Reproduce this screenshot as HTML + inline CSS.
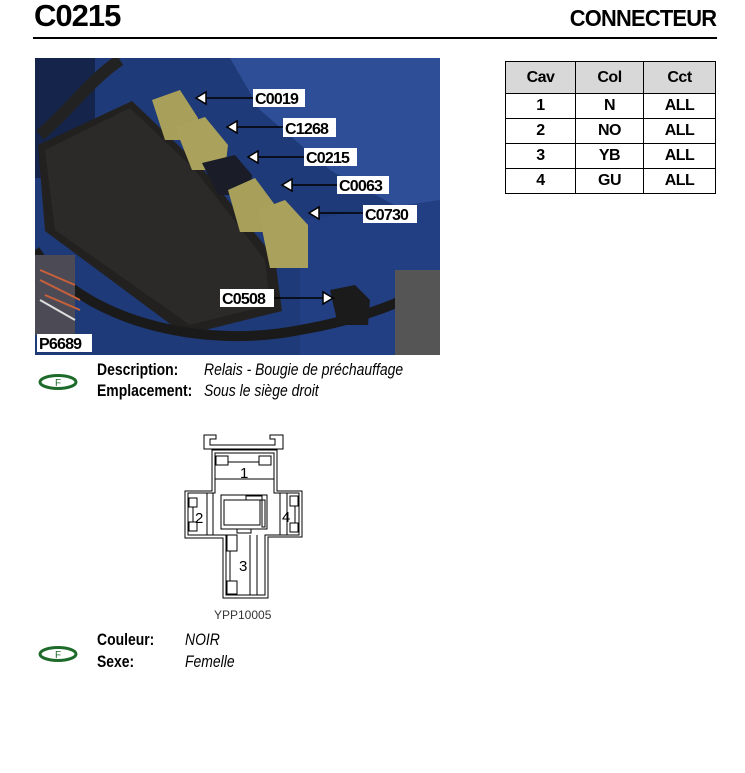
<!DOCTYPE html>
<html><head><meta charset="utf-8">
<style>
*{margin:0;padding:0;box-sizing:border-box}
body{width:745px;height:773px;background:#fff;position:relative;font-family:"Liberation Sans",Arial,sans-serif;overflow:hidden}
.a{position:absolute;white-space:nowrap}
.c{transform-origin:0 0;transform:scaleX(0.82)}
table{position:absolute;left:505px;top:61px;border-collapse:collapse}
td{border:1px solid #000;text-align:center;font-weight:bold;font-size:16px;height:25px;letter-spacing:-0.5px}
tr.h td{background:#d8d8d8;height:32px;font-weight:bold}
</style></head><body>
<div class="a" style="left:34px;top:-2px;font-size:31px;font-weight:bold;letter-spacing:-1px">C0215</div>
<div class="a" style="right:29px;top:5px;font-size:23px;letter-spacing:-0.8px;font-weight:bold;transform:scaleX(0.95);transform-origin:100% 0">CONNECTEUR</div>
<div class="a" style="left:33px;top:37px;width:684px;height:2px;background:#000"></div>

<table>
<tr class="h"><td style="width:70px">Cav</td><td style="width:68px">Col</td><td style="width:72px">Cct</td></tr>
<tr><td>1</td><td>N</td><td>ALL</td></tr>
<tr><td>2</td><td>NO</td><td>ALL</td></tr>
<tr><td>3</td><td>YB</td><td>ALL</td></tr>
<tr><td>4</td><td>GU</td><td>ALL</td></tr>
</table>

<svg class="a" style="left:35px;top:58px" width="405" height="297" viewBox="35 58 405 297">
<rect x="35" y="58" width="405" height="297" fill="#1f3a78"/>
<polygon points="230,58 440,58 440,230 330,170 260,110" fill="#2e4f98"/>
<polygon points="300,220 440,200 440,355 300,355" fill="#223f84"/>
<rect x="35" y="58" width="60" height="120" fill="#14244a"/>
<path d="M40,135 C70,110 90,80 120,60" stroke="#222" stroke-width="12" fill="none"/>
<polygon points="38,145 132,101 202,168 275,258 282,311 185,335 45,231" fill="#222120"/>
<polygon points="45,150 130,108 195,170 265,260 270,305 190,325 55,230" fill="#2b2a29"/>
<path d="M35,250 C80,320 200,350 300,330 C360,320 410,300 440,280" stroke="#1a1a1a" stroke-width="10" fill="none"/>
<rect x="35" y="255" width="40" height="80" fill="#4b4a55"/>
<path d="M40,270 L75,285 M40,280 L80,300 M45,295 L80,310" stroke="#c8603a" stroke-width="2"/>
<path d="M40,300 L75,320" stroke="#ddd" stroke-width="2"/>
<rect x="395" y="270" width="45" height="85" fill="#555"/>
<polygon points="152,100 180,90 198,118 196,140 165,140" fill="#a8a05a"/>
<polygon points="175,127 205,117 228,145 225,170 192,170" fill="#aaa25c"/>
<polygon points="202,163 235,155 252,175 250,195 218,195" fill="#1a1d28"/>
<polygon points="228,190 255,178 275,205 273,232 240,232" fill="#a8a05a"/>
<polygon points="258,210 285,200 308,225 308,268 270,268" fill="#aaa25c"/>
<polygon points="330,290 355,285 370,300 368,325 338,325" fill="#1b1b1b"/>
<g stroke="#000" stroke-width="1.5">
<line x1="205" y1="98" x2="253" y2="98"/><polygon points="196,98 206,92 206,104" fill="#fff"/>
<line x1="236" y1="127" x2="283" y2="127"/><polygon points="227,127 237,121 237,133" fill="#fff"/>
<line x1="257" y1="157" x2="304" y2="157"/><polygon points="248,157 258,151 258,163" fill="#fff"/>
<line x1="291" y1="185" x2="337" y2="185"/><polygon points="282,185 292,179 292,191" fill="#fff"/>
<line x1="318" y1="213" x2="363" y2="213"/><polygon points="309,213 319,207 319,219" fill="#fff"/>
<line x1="274" y1="298" x2="323" y2="298"/><polygon points="333,298 323,292 323,304" fill="#fff"/>
</g>
<g font-family="Liberation Sans,Arial,sans-serif" font-weight="bold" font-size="16" letter-spacing="-0.8">
<rect x="253" y="89" width="52" height="18" fill="#fff"/><text x="255" y="104">C0019</text>
<rect x="283" y="118" width="53" height="19" fill="#fff"/><text x="285" y="134">C1268</text>
<rect x="304" y="148" width="53" height="18" fill="#fff"/><text x="306" y="163">C0215</text>
<rect x="337" y="176" width="52" height="18" fill="#fff"/><text x="339" y="191">C0063</text>
<rect x="363" y="205" width="54" height="18" fill="#fff"/><text x="365" y="220">C0730</text>
<rect x="220" y="289" width="54" height="18" fill="#fff"/><text x="222" y="304">C0508</text>
<rect x="37" y="334" width="55" height="18" fill="#fff"/><text x="39" y="349">P6689</text>
</g>
</svg>

<svg class="a" style="left:37px;top:372px" width="42" height="20"><ellipse cx="21" cy="10" rx="18" ry="6.5" fill="none" stroke="#1d6a2a" stroke-width="3"/><text x="18" y="14" font-size="10" font-family="Liberation Sans" fill="#1d6a2a">F</text></svg>
<div class="a c" style="left:97px;top:360px;font-size:17px;font-weight:bold">Description:</div>
<div class="a c" style="left:97px;top:381px;font-size:17px;font-weight:bold">Emplacement:</div>
<div class="a c" style="left:204px;top:360px;font-size:17px;font-style:italic">Relais - Bougie de préchauffage</div>
<div class="a c" style="left:204px;top:381px;font-size:17px;font-style:italic">Sous le siège droit</div>

<svg class="a" style="left:180px;top:430px" width="130" height="175" viewBox="180 430 130 175" fill="none" stroke="#000" stroke-width="1">
<path d="M204,449 V435 H216 V439 H210 V445 H275 V439 H270 V435 H283 V449 Z"/>
<path d="M212,450 V491 H185 V538 H223 V598 H268 V537 H302 V491 H277 V450 Z"/>
<path d="M215,453 V493 H188 V535 H226 V595 H265 V535 H299 V493 H274 V453 Z"/>
<line x1="215" y1="479" x2="274" y2="479"/>
<rect x="216" y="456" width="12" height="9"/><rect x="259" y="456" width="12" height="9"/>
<line x1="228" y1="462" x2="259" y2="462"/>
<rect x="221" y="495" width="46" height="34"/>
<rect x="224" y="500" width="36" height="25"/>
<rect x="246" y="496" width="16" height="4"/><rect x="262" y="500" width="3" height="27"/>
<rect x="237" y="529" width="14" height="4"/>
<line x1="207" y1="493" x2="207" y2="535"/><line x1="213" y1="493" x2="213" y2="535"/>
<rect x="189" y="498" width="8" height="9"/><rect x="189" y="522" width="8" height="9"/>
<line x1="193" y1="507" x2="193" y2="522"/>
<line x1="280" y1="493" x2="280" y2="535"/><line x1="287" y1="493" x2="287" y2="535"/>
<rect x="290" y="496" width="8" height="10"/><rect x="290" y="523" width="8" height="9"/>
<line x1="295" y1="506" x2="295" y2="523"/>
<line x1="250" y1="535" x2="250" y2="595"/><line x1="257" y1="535" x2="257" y2="595"/>
<rect x="227" y="535" width="10" height="16"/><rect x="227" y="581" width="10" height="13"/>
<line x1="230" y1="551" x2="230" y2="581"/>
<text x="240" y="478" font-size="15" fill="#000" stroke="none" font-family="Liberation Sans">1</text>
<text x="195" y="523" font-size="15" fill="#000" stroke="none" font-family="Liberation Sans">2</text>
<text x="282" y="522" font-size="15" fill="#000" stroke="none" font-family="Liberation Sans">4</text>
<text x="239" y="571" font-size="15" fill="#000" stroke="none" font-family="Liberation Sans">3</text>
</svg>
<div class="a" style="left:214px;top:608px;font-size:12px;color:#333">YPP10005</div>

<svg class="a" style="left:37px;top:644px" width="42" height="20"><ellipse cx="21" cy="10" rx="18" ry="6.5" fill="none" stroke="#1d6a2a" stroke-width="3"/><text x="18" y="14" font-size="10" font-family="Liberation Sans" fill="#1d6a2a">F</text></svg>
<div class="a c" style="left:97px;top:630px;font-size:17px;font-weight:bold">Couleur:</div>
<div class="a c" style="left:97px;top:652px;font-size:17px;font-weight:bold">Sexe:</div>
<div class="a c" style="left:185px;top:630px;font-size:17px;font-style:italic">NOIR</div>
<div class="a c" style="left:185px;top:652px;font-size:17px;font-style:italic">Femelle</div>
</body></html>
